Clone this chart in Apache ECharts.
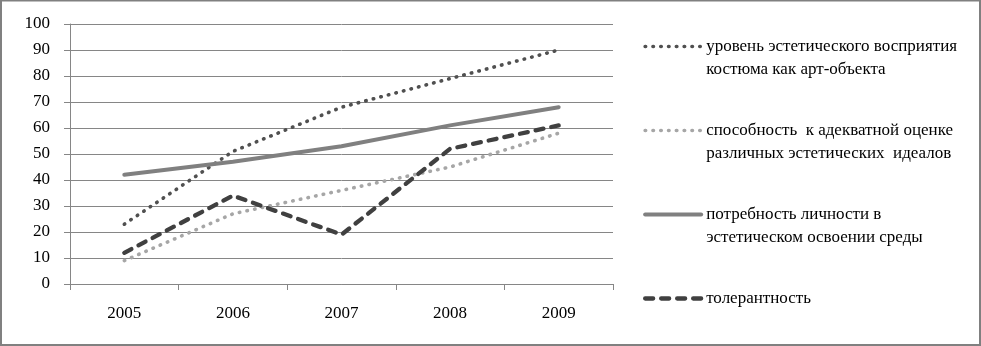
<!DOCTYPE html>
<html>
<head>
<meta charset="utf-8">
<script src="https://cdn.jsdelivr.net/npm/echarts@6/dist/echarts.min.js"></script>
<style>
html,body{margin:0;padding:0;background:#fff;}
#c{width:981px;height:346px;}
</style>
</head>
<body>
<div id="c"></div>
<script>
const years = ['2005', '2006', '2007', '2008', '2009'];
const seriesNames = [
  'уровень эстетического восприятия\nкостюма как арт-объекта',
  'способность  к адекватной оценке\nразличных эстетических  идеалов',
  'потребность личности в\nэстетическом освоении среды',
  'толерантность'
];
const perception = [23, 51, 68, 79, 90];
const evaluation = [9, 27, 36, 45, 58];
const need = [42, 47, 53, 61, 68];
const tolerance = [12, 34, 19, 52, 61];
const yMin = 0, yMax = 100, yStep = 10;

const FONT = '"Liberation Serif", "Times New Roman", serif';
const chart = echarts.init(document.getElementById('c'), null, {renderer: 'canvas'});

const styles = [
  {color: '#505050', width: 3.6, type: [0.5, 7.3], cap: 'round'},
  {color: '#a6a6a6', width: 3.6, type: [0.5, 7.3], cap: 'round'},
  {color: '#808080', width: 4, type: 'solid', cap: 'round'},
  {color: '#404040', width: 4.3, type: [8, 8], cap: 'round'}
];
const values = [perception, evaluation, need, tolerance];

chart.setOption({
  animation: false,
  backgroundColor: '#ffffff',
  textStyle: {fontFamily: FONT},
  grid: {left: 70, right: 368, top: 24, bottom: 62, containLabel: false},
  graphic: [{
    type: 'rect', z: 100, silent: true,
    shape: {x: 1, y: 0.5, width: 979, height: 344.5},
    style: {fill: 'none', stroke: '#808080', lineWidth: 2}
  }],
  legend: {
    orient: 'vertical',
    left: 643,
    top: 12,
    padding: 0,
    itemWidth: 56,
    itemHeight: 6,
    itemGap: 15,
    selectedMode: false,
    itemStyle: {color: 'rgba(0,0,0,0)', borderWidth: 0, opacity: 0},
    lineStyle: {width: 'inherit'},
    textStyle: {fontFamily: FONT, fontSize: 17, color: '#000', lineHeight: 23},
    formatter: function (name) {
      return name.indexOf('\n') >= 0 ? '\n' + name : '\n' + name + '\n';
    },
    data: seriesNames
  },
  xAxis: {
    type: 'category',
    data: years,
    boundaryGap: true,
    axisLine: {show: true, lineStyle: {color: '#868686', width: 1}},
    axisTick: {show: true, length: 6, lineStyle: {color: '#868686'}},
    axisLabel: {margin: 21, color: '#000', fontSize: 17, fontFamily: FONT},
    splitLine: {show: false}
  },
  yAxis: {
    type: 'value',
    min: yMin, max: yMax, interval: yStep,
    axisLine: {show: true, lineStyle: {color: '#868686', width: 1}},
    axisTick: {show: true, length: 6, lineStyle: {color: '#868686'}},
    axisLabel: {margin: 20, color: '#000', fontSize: 17, fontFamily: FONT},
    splitLine: {show: true, lineStyle: {color: '#868686', width: 1}}
  },
  series: seriesNames.map((n, i) => ({
    name: n,
    type: 'line',
    data: values[i],
    symbol: 'none',
    showSymbol: false,
    smooth: false,
    color: styles[i].color,
    lineStyle: {color: styles[i].color, width: styles[i].width, type: styles[i].type, cap: styles[i].cap, join: 'round'}
  }))
});
</script>
</body>
</html>
